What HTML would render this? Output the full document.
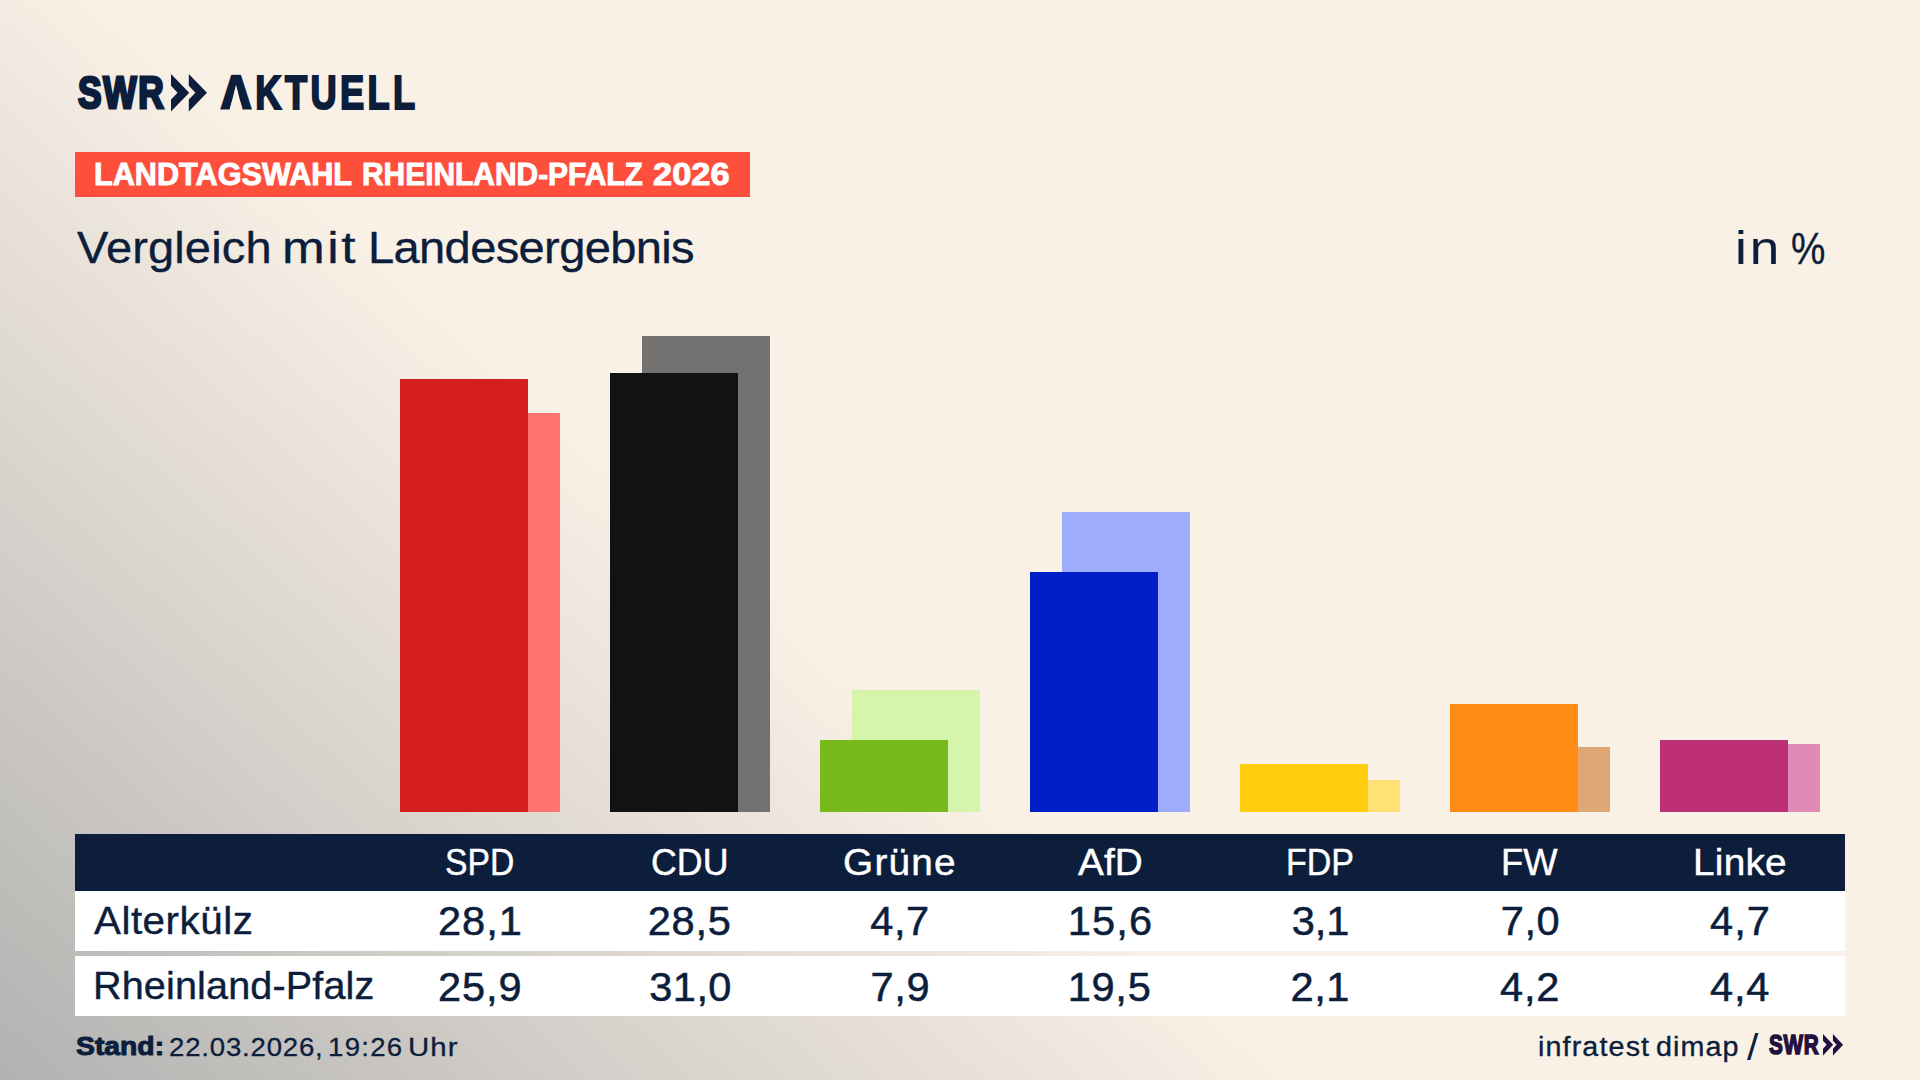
<!DOCTYPE html>
<html lang="de">
<head>
<meta charset="utf-8">
<title>SWR Aktuell – Landtagswahl Rheinland-Pfalz 2026 – Vergleich mit Landesergebnis</title>
<style>
html,body{margin:0;padding:0;}
body{width:1920px;height:1080px;overflow:hidden;background:#faf1e6;font-family:"Liberation Sans",sans-serif;color:#0c1e3c;}
#stage{position:relative;width:1920px;height:1080px;overflow:hidden;
 background:linear-gradient(42deg,#b2b2b1 0%,#faf1e6 42%,#faf1e6 100%);}
.t{position:absolute;white-space:nowrap;line-height:1;transform-origin:0 0;margin:0;padding:0;}
.bar{position:absolute;width:128px;}
.hdr{position:absolute;left:75px;top:834px;width:1770px;height:57px;background:#0c1e3c;}
.row{position:absolute;left:75px;width:1770px;height:60px;background:#fff;}
svg{position:absolute;display:block;}
h1{margin:0;padding:0;font-size:inherit;font-weight:400;}
.bannerbg{position:absolute;left:75px;top:152px;width:675px;height:45px;background:#fd4f3c;}
</style>
</head>
<body>
<div id="stage">

<header id="head">
<div id="logo" class="g">
<span class="t" id="swr" style="left:77.96px;top:71.48px;font-size:44.91px;font-weight:700;-webkit-text-stroke:3.0px #0c1e3c;letter-spacing:2.200px;transform:scaleX(0.7846);">SWR</span>
<svg style="left:171.2px;top:74px" width="36.2" height="37.5" viewBox="0 0 36.2 37.5" aria-hidden="true"><path d="M0 0 L18.2 18.75 L0 37.5 L0 25.4 L6.6 18.75 L0 11.8 Z M17.8 0 L36 18.75 L17.8 37.5 L17.8 25.4 L24.4 18.75 L17.8 11.8 Z" fill="#0c1e3c"/></svg>
<span class="t" id="akt" style="left:220.65px;top:67.74px;font-size:48.10px;font-weight:700;-webkit-text-stroke:2.2px #0c1e3c;letter-spacing:4.500px;transform:scaleX(0.7530);"><span style="display:inline-block;-webkit-text-stroke:3.7px #0c1e3c;transform:scaleX(1.15);transform-origin:0 50%;margin-right:6.41px;clip-path:polygon(-6px 7.12px, 40.74px 7.12px, 40.74px 41.82px, 24.64px 41.82px, 17.37px 16.95px, 10.10px 41.82px, -6px 41.82px);">A</span>KTUELL</span>
</div>
<div id="banner" class="g">
<div class="bannerbg"></div>
<span class="t" id="bn0" style="left:93.73px;top:159.70px;font-size:30.83px;font-weight:700;color:#fff;-webkit-text-stroke:0.9px #fff;transform:scaleX(0.9937);">LANDTAGSWAHL</span>
<span class="t" id="bn1" style="left:362.01px;top:159.70px;font-size:30.83px;font-weight:700;color:#fff;-webkit-text-stroke:0.9px #fff;transform:scaleX(0.9703);">RHEINLAND-PFALZ</span>
<span class="t" id="bn2" style="left:653.45px;top:159.70px;font-size:30.83px;font-weight:700;color:#fff;-webkit-text-stroke:0.9px #fff;transform:scaleX(1.1166);">2026</span>
</div>
<h1 id="title" class="g">
<span class="t" id="ti0" style="left:76.67px;top:226.24px;font-size:44.84px;-webkit-text-stroke:0.35px #0c1e3c;letter-spacing:0.112px;transform:scaleX(1.0500);">Vergleich</span>
<span class="t" id="ti1" style="left:281.75px;top:226.24px;font-size:44.84px;-webkit-text-stroke:0.35px #0c1e3c;letter-spacing:2.200px;transform:scaleX(1.1438);">mit</span>
<span class="t" id="ti2" style="left:368.08px;top:226.24px;font-size:44.84px;-webkit-text-stroke:0.35px #0c1e3c;letter-spacing:-0.612px;transform:scaleX(1.0500);">Landesergebnis</span>
</h1>
<div id="unit" class="g">
<span class="t" id="in" style="left:1735.26px;top:226.44px;font-size:45.59px;-webkit-text-stroke:0.1px #0c1e3c;letter-spacing:2.500px;transform:scaleX(1.1636);">in</span>
<span class="t" id="pct" style="left:1791.06px;top:226.10px;font-size:45.13px;-webkit-text-stroke:0.35px #0c1e3c;transform:scaleX(0.8560);">%</span>
</div>
</header>
<section id="chart">
<div class="bar" style="left:432px;top:413px;height:399px;background:#ff746e;"></div>
<div class="bar" style="left:400px;top:379px;height:433px;background:#d51f1f;"></div>
<div class="bar" style="left:642px;top:336px;height:476px;background:#737271;"></div>
<div class="bar" style="left:610px;top:373px;height:439px;background:#121212;"></div>
<div class="bar" style="left:852px;top:690px;height:122px;background:#d6f5ac;"></div>
<div class="bar" style="left:820px;top:740px;height:72px;background:#78ba1c;"></div>
<div class="bar" style="left:1062px;top:512px;height:300px;background:#9dacfc;"></div>
<div class="bar" style="left:1030px;top:572px;height:240px;background:#001fc6;"></div>
<div class="bar" style="left:1272px;top:780px;height:32px;background:#ffe273;"></div>
<div class="bar" style="left:1240px;top:764px;height:48px;background:#ffcc0e;"></div>
<div class="bar" style="left:1482px;top:747px;height:65px;background:#dfa774;"></div>
<div class="bar" style="left:1450px;top:704px;height:108px;background:#ff8c14;"></div>
<div class="bar" style="left:1692px;top:744px;height:68px;background:#e08ab6;"></div>
<div class="bar" style="left:1660px;top:740px;height:72px;background:#bd3075;"></div>
</section>
<section id="table">
<div class="hdr"></div>
<div class="t" id="h0" style="left:444.93px;top:843.62px;font-size:37.27px;color:#fff;-webkit-text-stroke:0.45px #fff;transform:scaleX(0.9038);">SPD</div>
<div class="t" id="h1" style="left:651.26px;top:843.62px;font-size:37.27px;color:#fff;-webkit-text-stroke:0.45px #fff;transform:scaleX(0.9599);">CDU</div>
<div class="t" id="h2" style="left:843.14px;top:843.62px;font-size:37.27px;color:#fff;-webkit-text-stroke:0.45px #fff;letter-spacing:1.190px;transform:scaleX(1.0400);">Grüne</div>
<div class="t" id="h3" style="left:1077.82px;top:843.62px;font-size:37.27px;color:#fff;-webkit-text-stroke:0.45px #fff;letter-spacing:0.062px;transform:scaleX(1.0400);">AfD</div>
<div class="t" id="h4" style="left:1285.66px;top:843.62px;font-size:37.27px;color:#fff;-webkit-text-stroke:0.45px #fff;transform:scaleX(0.9127);">FDP</div>
<div class="t" id="h5" style="left:1500.81px;top:843.62px;font-size:37.27px;color:#fff;-webkit-text-stroke:0.45px #fff;transform:scaleX(0.9755);">FW</div>
<div class="t" id="h6" style="left:1692.82px;top:843.62px;font-size:37.27px;color:#fff;-webkit-text-stroke:0.45px #fff;letter-spacing:0.224px;transform:scaleX(1.0400);">Linke</div>
<div class="row" style="top:891px;"></div>
<div class="t" id="alter" style="left:94.22px;top:901.90px;font-size:38.81px;-webkit-text-stroke:0.4px #0c1e3c;letter-spacing:0.492px;transform:scaleX(1.0400);">Alterkülz</div>
<div class="t" id="a0" style="left:437.98px;top:899.82px;font-size:41.57px;-webkit-text-stroke:0.55px #0c1e3c;letter-spacing:0.990px;">28,1</div>
<div class="t" id="a1" style="left:647.77px;top:899.82px;font-size:41.57px;-webkit-text-stroke:0.55px #0c1e3c;letter-spacing:0.704px;">28,5</div>
<div class="t" id="a2" style="left:870.15px;top:899.82px;font-size:41.57px;-webkit-text-stroke:0.55px #0c1e3c;letter-spacing:0.656px;">4,7</div>
<div class="t" id="a3" style="left:1067.77px;top:899.82px;font-size:41.57px;-webkit-text-stroke:0.55px #0c1e3c;letter-spacing:1.122px;">15,6</div>
<div class="t" id="a4" style="left:1291.64px;top:899.82px;font-size:41.57px;-webkit-text-stroke:0.55px #0c1e3c;letter-spacing:-0.060px;">3,1</div>
<div class="t" id="a5" style="left:1500.72px;top:899.82px;font-size:41.57px;-webkit-text-stroke:0.55px #0c1e3c;letter-spacing:0.559px;">7,0</div>
<div class="t" id="a6" style="left:1710.11px;top:899.82px;font-size:41.57px;-webkit-text-stroke:0.55px #0c1e3c;letter-spacing:1.022px;">4,7</div>
<div class="row" style="top:956px;"></div>
<div class="t" id="rlp" style="left:92.91px;top:967.40px;font-size:38.81px;-webkit-text-stroke:0.4px #0c1e3c;letter-spacing:0.135px;transform:scaleX(1.0200);">Rheinland-Pfalz</div>
<div class="t" id="b0" style="left:437.98px;top:965.52px;font-size:41.57px;-webkit-text-stroke:0.55px #0c1e3c;letter-spacing:0.917px;">25,9</div>
<div class="t" id="b1" style="left:649.33px;top:965.52px;font-size:41.57px;-webkit-text-stroke:0.55px #0c1e3c;letter-spacing:0.419px;">31,0</div>
<div class="t" id="b2" style="left:870.38px;top:965.52px;font-size:41.57px;-webkit-text-stroke:0.55px #0c1e3c;letter-spacing:0.669px;">7,9</div>
<div class="t" id="b3" style="left:1067.64px;top:965.52px;font-size:41.57px;-webkit-text-stroke:0.55px #0c1e3c;letter-spacing:0.755px;">19,5</div>
<div class="t" id="b4" style="left:1290.45px;top:965.52px;font-size:41.57px;-webkit-text-stroke:0.55px #0c1e3c;letter-spacing:0.609px;">2,1</div>
<div class="t" id="b5" style="left:1499.93px;top:965.52px;font-size:41.57px;-webkit-text-stroke:0.55px #0c1e3c;letter-spacing:0.875px;">4,2</div>
<div class="t" id="b6" style="left:1710.11px;top:965.52px;font-size:41.57px;-webkit-text-stroke:0.55px #0c1e3c;letter-spacing:0.712px;">4,4</div>
</section>
<footer id="foot">
<div id="standline" class="g">
<span class="t" id="stand" style="left:76.24px;top:1033.82px;font-size:25.73px;font-weight:700;-webkit-text-stroke:1.0px #0c1e3c;transform:scaleX(1.1007);">Stand:</span>
<span class="t" id="dt0" style="left:169.17px;top:1034.18px;font-size:26.02px;-webkit-text-stroke:0.3px #0c1e3c;letter-spacing:0.759px;transform:scaleX(1.0600);">22.03.2026,</span>
<span class="t" id="dt1" style="left:327.59px;top:1034.18px;font-size:26.02px;-webkit-text-stroke:0.3px #0c1e3c;letter-spacing:1.222px;transform:scaleX(1.0600);">19:26</span>
<span class="t" id="dt2" style="left:407.51px;top:1034.18px;font-size:26.02px;-webkit-text-stroke:0.3px #0c1e3c;letter-spacing:1.000px;transform:scaleX(1.1301);">Uhr</span>
</div>
<div id="source" class="g">
<span class="t" id="if0" style="left:1537.68px;top:1033.37px;font-size:27.62px;-webkit-text-stroke:0.35px #0c1e3c;letter-spacing:1.075px;transform:scaleX(1.0400);">infratest</span>
<span class="t" id="if1" style="left:1656.37px;top:1033.37px;font-size:27.62px;-webkit-text-stroke:0.35px #0c1e3c;letter-spacing:1.010px;transform:scaleX(1.0400);">dimap</span>
<span class="t" id="slash" style="left:1747.27px;top:1028.83px;font-size:37.06px;transform:scaleX(1.0999);">/</span>
<span class="t" id="swr2" style="left:1769.04px;top:1031.41px;font-size:27.33px;font-weight:700;color:#24103f;-webkit-text-stroke:1.6px #24103f;letter-spacing:1.000px;transform:scaleX(0.7564);">SWR</span>
<svg style="left:1823.1px;top:1034.2px" width="20.2" height="21.6" viewBox="0 0 36.2 37.5" preserveAspectRatio="none" aria-hidden="true"><path d="M0 0 L18.2 18.75 L0 37.5 L0 25.4 L6.6 18.75 L0 11.8 Z M17.8 0 L36 18.75 L17.8 37.5 L17.8 25.4 L24.4 18.75 L17.8 11.8 Z" fill="#24103f"/></svg>
</div>
</footer>
</div>
</body>
</html>
